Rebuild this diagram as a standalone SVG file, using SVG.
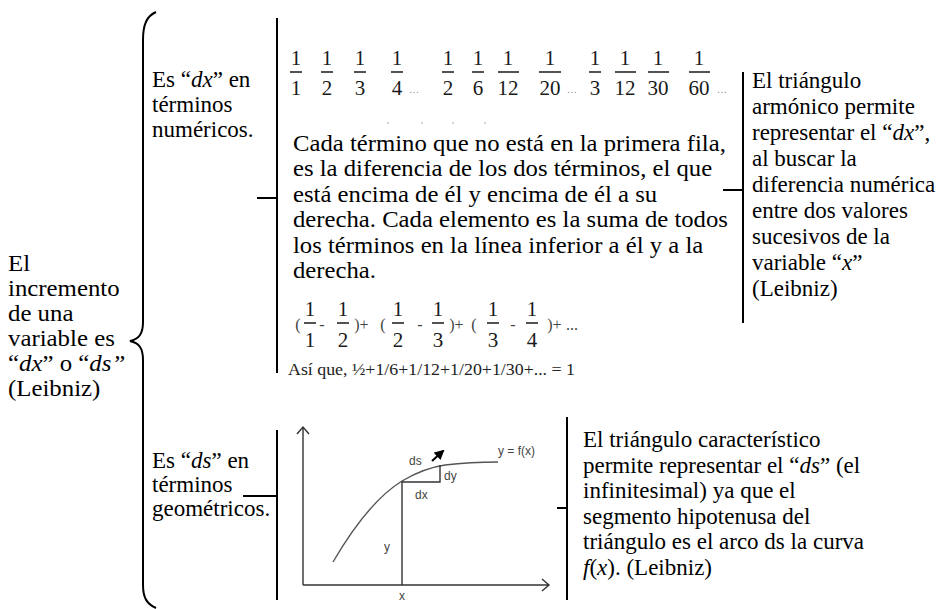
<svg xmlns="http://www.w3.org/2000/svg" width="939" height="609" viewBox="0 0 939 609">
<defs>
<style>
.t{font-family:"Liberation Serif","Times New Roman",serif;font-size:23px;fill:#000}
.i{font-style:italic}
.fr{font-family:"Liberation Serif","Times New Roman",serif;font-size:21px;fill:#1a1a1a;text-anchor:middle}
.sm{font-family:"Liberation Serif","Times New Roman",serif;font-size:16px;fill:#444;text-anchor:middle}
.dots{font-family:"Liberation Serif",serif;font-size:10px;fill:#888}
.g{font-family:"Liberation Sans",Arial,sans-serif;font-size:12px;fill:#444}
.ln{stroke:#000;stroke-width:2;fill:none}
.fb{stroke:#1a1a1a;stroke-width:1.5}
.ax{stroke:#333;stroke-width:1.4;fill:none}
</style>
<marker id="ah" viewBox="0 0 10 10" refX="8" refY="5" markerWidth="5" markerHeight="5" orient="auto">
<path d="M0,0 L10,5 L0,10 z" fill="#000"/>
</marker>
</defs>
<rect width="939" height="609" fill="#fff"/>

<g id="connectors">
<path class="ln" d="M156,12 C147,16 143,24 143,40 L143,322 C143,334 139,339 130,341 C139,343 143,348 143,360 L143,585 C143,598 147,604 156,608" stroke-width="1.6"/>
<line class="ln" x1="277" y1="18" x2="277" y2="373"/>
<line class="ln" x1="257" y1="198" x2="277" y2="198"/>
<line class="ln" x1="743" y1="72" x2="743" y2="323"/>
<line class="ln" x1="723" y1="190" x2="743" y2="190"/>
<line class="ln" x1="277" y1="430" x2="277" y2="600"/>
<line class="ln" x1="243" y1="496" x2="277" y2="496"/>
<line class="ln" x1="567" y1="417" x2="567" y2="600"/>
<line class="ln" x1="557" y1="508" x2="567" y2="508"/>
</g>

<g id="node-root">
<text class="t" font-size="24" transform="translate(8,0) scale(1.08,1) translate(-8,0)"><tspan x="8" y="271">El</tspan><tspan x="8" y="296">incremento</tspan><tspan x="8" y="321">de una</tspan><tspan x="8" y="346">variable es</tspan><tspan x="8" y="371">“<tspan class="i">dx</tspan>” o “<tspan class="i">ds”</tspan></tspan><tspan x="8" y="396">(Leibniz)</tspan></text>
</g>

<g id="node-dx">
<text class="t" font-size="24"><tspan x="152" y="87">Es “<tspan class="i">dx</tspan>” en</tspan><tspan x="152" y="112">términos</tspan><tspan x="152" y="137">numéricos.</tspan></text>
</g>

<g id="node-harmonic">
<g id="fractions-row">
<g class="fb">
<line x1="290" y1="72" x2="302" y2="72"/><line x1="321" y1="72" x2="333" y2="72"/><line x1="354" y1="72" x2="366" y2="72"/><line x1="391" y1="72" x2="403" y2="72"/>
<line x1="442" y1="72" x2="454" y2="72"/><line x1="472" y1="72" x2="484" y2="72"/><line x1="498" y1="72" x2="519" y2="72"/><line x1="539" y1="72" x2="561" y2="72"/>
<line x1="589" y1="72" x2="601" y2="72"/><line x1="615" y1="72" x2="636" y2="72"/><line x1="648" y1="72" x2="669" y2="72"/><line x1="689" y1="72" x2="710" y2="72"/>
</g>
<text class="fr" y="65"><tspan x="296">1</tspan><tspan x="327">1</tspan><tspan x="360">1</tspan><tspan x="397">1</tspan><tspan x="448">1</tspan><tspan x="478">1</tspan><tspan x="508">1</tspan><tspan x="550">1</tspan><tspan x="595">1</tspan><tspan x="625">1</tspan><tspan x="658">1</tspan><tspan x="699">1</tspan></text>
<text class="fr" y="95"><tspan x="296">1</tspan><tspan x="327">2</tspan><tspan x="360">3</tspan><tspan x="397">4</tspan><tspan x="448">2</tspan><tspan x="478">6</tspan><tspan x="508">12</tspan><tspan x="550">20</tspan><tspan x="595">3</tspan><tspan x="625">12</tspan><tspan x="658">30</tspan><tspan x="699">60</tspan></text>
<text class="dots" y="93"><tspan x="409">…</tspan><tspan x="567">…</tspan><tspan x="717">…</tspan></text>
<g stroke="#aaa" stroke-width="1"><line x1="387" y1="123" x2="389" y2="123"/><line x1="421" y1="123" x2="423" y2="123"/><line x1="452" y1="123" x2="454" y2="123"/><line x1="484" y1="123" x2="486" y2="123"/></g>
</g>
<text class="t" transform="translate(293,0) scale(1.075,1) translate(-293,0)"><tspan x="293" y="151">Cada término que no está en la primera fila,</tspan><tspan x="293" y="176.5">es la diferencia de los dos términos, el que</tspan><tspan x="293" y="202">está encima de él y encima de él a su</tspan><tspan x="293" y="227.5">derecha. Cada elemento es la suma de todos</tspan><tspan x="293" y="253">los términos en la línea inferior a él y a la</tspan><tspan x="293" y="278.5">derecha.</tspan></text>
<g id="series">
<g class="fb">
<line x1="304" y1="323" x2="316" y2="323"/><line x1="337" y1="323" x2="349" y2="323"/>
<line x1="392" y1="323" x2="404" y2="323"/><line x1="432" y1="323" x2="444" y2="323"/>
<line x1="487" y1="323" x2="499" y2="323"/><line x1="526" y1="323" x2="538" y2="323"/>
</g>
<text class="fr" y="316"><tspan x="310">1</tspan><tspan x="343">1</tspan><tspan x="398">1</tspan><tspan x="438">1</tspan><tspan x="493">1</tspan><tspan x="532">1</tspan></text>
<text class="fr" y="347"><tspan x="310">1</tspan><tspan x="343">2</tspan><tspan x="398">2</tspan><tspan x="438">3</tspan><tspan x="493">3</tspan><tspan x="532">4</tspan></text>
<text class="sm" y="330"><tspan x="298">(</tspan><tspan x="322">-</tspan><tspan x="357">)</tspan><tspan x="364">+</tspan><tspan x="383">(</tspan><tspan x="420">-</tspan><tspan x="452">)</tspan><tspan x="459">+</tspan><tspan x="474">(</tspan><tspan x="513">-</tspan><tspan x="550">)</tspan><tspan x="557">+</tspan><tspan x="572">...</tspan></text>
<text x="288" y="375" font-family="Liberation Serif,serif" font-size="17" fill="#222" textLength="287" lengthAdjust="spacingAndGlyphs">Así que,  ½+1/6+1/12+1/20+1/30+... = 1</text>
</g>
</g>

<g id="node-dx-explanation">
<text class="t"><tspan x="752" y="88">El triángulo</tspan><tspan x="752" y="114">armónico permite</tspan><tspan x="752" y="140">representar el “<tspan class="i">dx</tspan>”,</tspan><tspan x="752" y="166">al buscar la</tspan><tspan x="752" y="192">diferencia numérica</tspan><tspan x="752" y="218">entre dos valores</tspan><tspan x="752" y="244">sucesivos de la</tspan><tspan x="752" y="270">variable “<tspan class="i">x</tspan>”</tspan><tspan x="752" y="296">(Leibniz)</tspan></text>
</g>

<g id="node-ds">
<text class="t"><tspan x="152" y="468">Es “<tspan class="i">ds</tspan>” en</tspan><tspan x="152" y="492">términos</tspan><tspan x="152" y="516">geométricos.</tspan></text>
</g>

<g id="node-graph">
<path class="ax" d="M303,585 L303,428 M297,434 L303,427 L309,434"/>
<path class="ax" d="M303,585 L548,585 M542,579 L549,585 L542,591"/>
<path d="M333,562 Q368,502 402,481 Q424,468 445,465 Q470,462 498,462" stroke="#555" stroke-width="1.4" fill="none"/>
<path class="ax" d="M402,481 L402,585 M402,482 L440,482 L440,465"/>
<line x1="432" y1="461" x2="443" y2="451" stroke="#000" stroke-width="2" marker-end="url(#ah)"/>
<text class="g" x="409" y="465">ds</text>
<text class="g" x="444" y="480">dy</text>
<text class="g" x="415" y="499">dx</text>
<text class="g" x="384" y="551">y</text>
<text class="g" x="399" y="600">x</text>
<text class="g" x="498" y="455">y = f(x)</text>
</g>

<g id="node-ds-explanation">
<text class="t"><tspan x="583" y="447">El triángulo característico</tspan><tspan x="583" y="472.5">permite representar el “<tspan class="i">ds</tspan>” (el</tspan><tspan x="583" y="498">infinitesimal) ya que el</tspan><tspan x="583" y="523.5">segmento hipotenusa del</tspan><tspan x="583" y="549">triángulo es el arco ds la curva</tspan><tspan x="583" y="574.5"><tspan class="i">f</tspan>(<tspan class="i">x</tspan>). (Leibniz)</tspan></text>
</g>
</svg>
